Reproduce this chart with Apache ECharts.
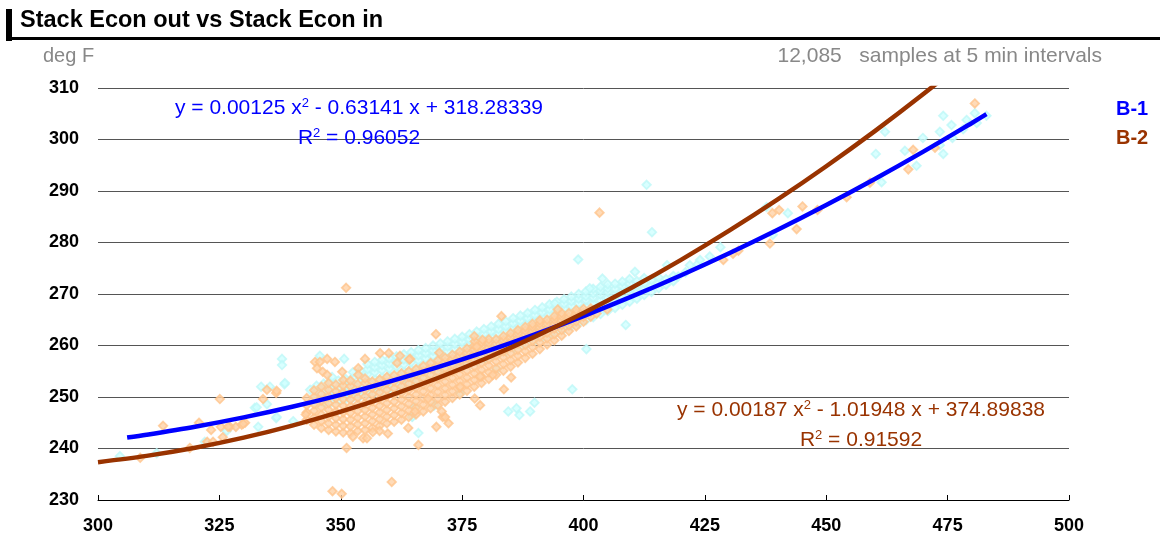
<!DOCTYPE html>
<html><head><meta charset="utf-8">
<script src="https://cdn.jsdelivr.net/npm/echarts@6/dist/echarts.min.js"></script>
<style>html,body{margin:0;padding:0;background:#fff}#c{width:1160px;height:540px}</style>
</head><body><div id="c"></div>
<script>
const FONT = 'Arial, "Liberation Sans", sans-serif';
const titleText = 'Stack Econ out vs Stack Econ in';
const unitText = 'deg F';
const sampleText = '12,085   samples at 5 min intervals';
const seriesNames = ['B-1', 'B-2'];
const xMin = 300, xMax = 500, xStep = 25;
const yMin = 230, yMax = 310, yStep = 10;

// B-1 dense band: [x, [y values]]
const b1Band = [
 [345,[248.5,249.8,251.1,252.2]],
 [346.5,[248.8,250.1,251.4,252.6]],
 [348,[249.0,250.3,251.6,252.9]],
 [349.5,[249.3,250.6,251.9,253.2]],
 [351,[249.6,250.9,252.2,253.5]],
 [352.5,[249.9,251.2,252.5,253.8,254.8]],
 [354,[250.2,251.5,252.8,254.1,255.1]],
 [355.5,[250.5,251.8,253.1,254.4,255.4,256.4]],
 [357,[250.9,252.2,253.5,254.8,255.8,256.8]],
 [358.5,[251.3,252.6,253.9,255.2,256.2,257.2]],
 [360,[251.6,252.9,254.2,255.5,256.5,257.5]],
 [361.5,[252.0,253.3,254.6,255.9,256.9,257.9]],
 [363,[252.4,253.7,255.0,256.3,257.3,258.3]],
 [364.5,[252.8,254.1,255.4,256.7,257.7,258.7]],
 [366,[253.2,254.5,255.8,257.1,258.1,259.1]],
 [367.5,[253.6,254.9,256.2,257.5,258.5,259.5]],
 [369,[254.1,255.4,256.7,258.0,259.0,260.0]],
 [370.5,[254.5,255.8,257.1,258.4,259.4,260.4]],
 [372,[254.9,256.2,257.5,258.8,259.8,260.8]],
 [373.5,[255.4,256.7,258.0,259.3,260.3,261.3]],
 [375,[255.8,257.1,258.4,259.7,260.7,261.7]],
 [376.5,[256.3,257.6,258.9,260.2,261.2,262.2]],
 [378,[256.8,258.1,259.4,260.7,261.7,262.7]],
 [379.5,[257.3,258.6,259.9,261.2,262.2,263.2]],
 [381,[257.8,259.1,260.4,261.7,262.7,263.7]],
 [382.5,[258.3,259.6,260.9,262.2,263.2,264.2]],
 [384,[258.8,260.1,261.4,262.7,263.7,264.7]],
 [385.5,[259.4,260.7,262.0,263.3,264.3,265.3]],
 [387,[259.9,261.2,262.5,263.8,264.8,265.8]],
 [388.5,[260.4,261.7,263.0,264.3,265.3,266.3]],
 [390,[261.0,262.3,263.6,264.9,265.9,266.9]],
 [391.5,[261.5,262.8,264.1,265.4,266.4,267.4]],
 [393,[262.1,263.4,264.7,266.0,267.0,268.0]],
 [394.5,[262.6,263.9,265.2,266.5,267.5,268.5]],
 [396,[263.2,264.5,265.8,267.1,268.1,269.0]],
 [397.5,[263.8,265.1,266.4,267.7,268.6,269.5]],
 [399,[264.3,265.6,266.9,268.2,269.1,270.0]],
 [400.5,[264.9,266.2,267.5,268.8,269.6,270.5]],
 [402,[265.5,266.8,268.1,269.3,270.1,271.0]],
 [403.5,[266.1,267.4,268.7,269.9,270.6,271.4]],
 [405,[266.7,268.0,269.3,270.4,271.1,271.9]],
 [406.5,[267.3,268.6,269.9,271.0,272.0]],
 [408,[267.9,269.2,270.5,271.5,272.4]],
 [409.5,[268.5,269.8,271.0,272.0,272.9]],
 [411,[269.1,270.4,271.6,272.5]],
 [412.5,[269.8,271.0,272.1,273.1]],
 [414,[270.4,271.6,272.7]],
 [415.5,[271.1,272.2,273.2]],
 [417,[271.8,272.9]],
 [418.5,[272.5,273.5]]
];
// B-1 scattered points [x, y]
const b1Sparse = [
 [304.5,238.5],[312.1,239.1],[322.0,241.3],[326.5,243.4],[333.0,244.2],[332.3,247.9],[332.7,248.0],[334.8,248.6],
 [336.7,245.9],[336.8,246.1],[340.2,245.3],[333.6,252.0],[335.4,252.0],[338.4,252.5],[338.5,252.7],[343.7,251.4],
 [337.9,257.4],[337.9,256.2],[345.7,258.0],[350.7,257.4],[348.2,253.9],[366.0,243.0],[364.7,246.1],[364.8,246.2],
 [365.3,248.1],[369.3,248.4],[369.1,248.3],[374.6,250.8],[384.5,247.2],[386.2,247.8],[386.8,246.5],[389.0,247.2],
 [389.9,248.9],[397.7,251.5],[400.6,259.3],[382.1,255.4],[378.7,257.7],[394.1,268.2],[401.3,271.1],[398.9,276.7],
 [403.9,273.0],[410.6,274.3],[417.2,275.6],[413.0,291.2],[414.1,282.0],[408.7,264.0],[419.5,273.4],[421.0,274.2],
 [421.9,275.6],[423.5,275.8],[424.0,276.6],[426.0,277.3],[428.2,279.1],[437.7,286.9],[439.0,281.5],[442.1,285.7],
 [460.2,297.2],[461.4,291.7],[462.1,301.5],[466.2,297.8],[468.6,294.9],[469.9,300.3],[473.4,301.5],[474.1,304.6],
 [474.1,297.2],[475.8,302.8],[476.0,300.3],[478.2,302.0],[478.9,303.8],[480.6,305.1],[481.0,303.2],[483.0,304.6],
 [473.4,298.9]
];
// B-2 dense band: [x, [y values]]
const b2Band = [
 [343,[245.6,247.0,248.4,249.8]],
 [344.5,[244.6,246.0,247.3,248.6,250.0,251.3]],
 [346,[244.0,245.3,246.6,248.0,249.3,250.6,252.0]],
 [347.5,[243.6,244.9,246.2,247.5,248.8,250.1,251.4,252.7]],
 [349,[243.3,244.6,245.9,247.2,248.5,249.8,251.1,252.4]],
 [350.5,[243.1,244.4,245.7,247.0,248.3,249.6,250.9,252.2,253.3]],
 [352,[243.0,244.3,245.6,246.9,248.2,249.5,250.8,252.1,253.2]],
 [353.5,[243.4,244.7,246.0,247.3,248.6,249.9,251.2,252.5]],
 [355,[243.6,244.9,246.2,247.5,248.8,250.1,251.4,252.7,253.6]],
 [356.5,[244.0,245.3,246.6,247.9,249.2,250.5,251.8,253.0]],
 [358,[244.4,245.7,247.0,248.3,249.6,250.9,252.2,253.4]],
 [359.5,[244.9,246.2,247.5,248.8,250.1,251.4,252.7,253.9]],
 [361,[245.2,246.5,247.8,249.1,250.4,251.7,253.0,254.2]],
 [362.5,[245.6,246.9,248.2,249.5,250.8,252.1,253.4,254.6]],
 [364,[246.1,247.4,248.7,250.0,251.3,252.6,253.9,255.0]],
 [365.5,[246.6,247.9,249.2,250.5,251.8,253.1,254.4,255.4]],
 [367,[247.2,248.5,249.8,251.1,252.4,253.7,255.0,256.0]],
 [368.5,[247.8,249.1,250.4,251.7,253.0,254.3,255.6,256.6]],
 [370,[248.4,249.7,251.0,252.3,253.6,254.9,256.1,257.1]],
 [371.5,[249.1,250.4,251.7,253.0,254.3,255.6,256.8,257.6]],
 [373,[249.8,251.1,252.4,253.7,255.0,256.3,257.4,258.2]],
 [374.5,[250.5,251.8,253.1,254.4,255.7,257.0,258.0,258.8]],
 [376,[251.2,252.5,253.8,255.1,256.4,257.6,258.6,259.4]],
 [377.5,[252.0,253.3,254.6,255.9,257.2,258.3,259.2,260.0]],
 [379,[252.7,254.0,255.3,256.6,257.9,259.0,259.9,260.6]],
 [380.5,[253.5,254.8,256.1,257.4,258.6,259.6,260.5,261.2]],
 [382,[254.3,255.6,256.9,258.1,259.3,260.3,261.2]],
 [383.5,[255.1,256.4,257.7,258.9,260.0,261.0,261.8]],
 [385,[255.9,257.2,258.5,259.7,260.7,261.6,262.4]],
 [386.5,[256.7,258.0,259.2,260.4,261.4,262.3,263.0]],
 [388,[257.6,258.9,260.1,261.2,262.1,262.9,263.6]],
 [389.5,[258.4,259.7,260.9,261.9,262.8,263.6,264.2]],
 [391,[259.3,260.6,261.7,262.7,263.5,264.3,264.9]],
 [392.5,[260.2,261.4,262.5,263.4,264.2,265.0]],
 [394,[261.0,262.2,263.3,264.2,265.0,265.7]],
 [395.5,[261.9,263.0,264.0,264.9,265.7,266.3]],
 [397,[262.8,263.9,264.8,265.6,266.3]],
 [398.5,[263.7,264.7,265.6,266.3,266.9]],
 [400,[264.6,265.6,266.4,267.1]],
 [401.5,[265.6,266.5,267.2]]
];
// B-2 scattered points [x, y]
const b2Sparse = [
 [351.1,271.2],[403.3,285.8],[480.6,307.0],[348.3,231.7],[350.2,231.2],[360.5,233.5],[351.2,240.1],[366.0,240.7],
 [325.1,249.6],[313.4,244.4],[334.8,251.4],[336.7,250.8],[318.9,240.1],[308.7,238.2],[323.3,243.6],[325.3,244.2],
 [327.2,244.2],[328.4,244.2],[329.6,244.6],[330.3,245.0],[322.5,241.3],[323.7,241.3],[325.7,242.2],[320.8,245.0],
 [342.8,246.6],[334.0,249.6],[336.8,251.2],[329.9,244.8],[326.8,244.2],
 [358.1,258.5],[359.9,258.5],[362.2,258.0],[364.3,257.4],[361.6,256.6],[355.0,257.4],[348.8,256.8],[347.2,257.4],
 [344.7,256.8],[345.7,256.8],[345.1,255.6],[346.3,254.9],[347.2,254.3],[350.3,254.9],[353.6,255.6],[353.6,254.3],
 [354.6,242.0],[352.5,242.3],[355.4,242.0],[358.0,243.4],[359.7,242.9],[363.9,244.0],[356.6,243.2],
 [383.1,265.7],[369.6,262.2],[394.7,267.0],[377.6,260.8],[379.2,261.1],[378.0,259.8],[370.3,258.6],[364.1,257.3],
 [377.5,261.8],[385.1,253.8],[383.6,251.5],[378.7,254.0],[381.3,254.3],[377.6,249.7],[378.7,248.4],[374.6,252.0],
 [372.2,244.9],[369.7,244.2],[371.0,246.1],[371.5,246.1],[370.8,247.2],[368.0,249.7],[365.3,247.2],
 [404.9,267.0],[402.7,266.2],[428.8,276.6],[430.8,277.8],[431.9,278.4],[438.4,279.8],[443.9,282.6],[438.9,285.7],
 [440.3,286.3],[445.1,287.0],[448.2,286.3],[454.2,288.8],[459.0,291.6],[466.9,294.2],[467.9,298.0],[472.4,298.4]
];
// Trend curves [x, y]
const b1Fit = [[306,242.12],[310,242.67],[320,244.23],[330,246.04],[340,248.10],[350,250.41],[360,252.98],[370,255.79],
 [380,258.85],[390,262.16],[400,265.72],[410,269.53],[420,273.59],[430,277.90],[440,282.46],[450,287.27],[460,292.33],
 [470,297.65],[480,303.21],[483,304.92]];
const b2Fit = [[300,237.35],[310,238.57],[320,240.15],[330,242.11],[340,244.45],[350,247.16],[360,250.24],[370,253.69],
 [380,257.52],[390,261.73],[400,266.31],[410,271.26],[420,276.58],[430,282.29],[440,288.36],[450,294.81],[460,301.63],
 [470,308.83],[480,316.40]];
const b1Eq = ['y = 0.00125 x', ' - 0.63141 x + 318.28339', 'R', ' = 0.96052'];
const b2Eq = ['y = 0.00187 x', ' - 1.01948 x + 374.89838', 'R', ' = 0.91592'];

const colB1 = '#0000ff', colB2 = '#993300';
const flat = band => band.reduce((acc, c) => acc.concat(c[1].map(y => [c[0], y])), []);

function eqText(x, y, lines, col) {
  const rich = { a: { fontSize: 21, fontFamily: FONT, fill: col }, s: { fontSize: 13, fontFamily: FONT, fill: col, padding: [0, 0, 10, 0] } };
  return [
    { type: 'text', x: x, y: y, z: 100, style: { text: '{a|' + lines[0] + '}{s|2}{a|' + lines[1] + '}', rich: rich, align: 'center', verticalAlign: 'middle' } },
    { type: 'text', x: x, y: y + 30, z: 100, style: { text: '{a|' + lines[2] + '}{s|2}{a|' + lines[3] + '}', rich: rich, align: 'center', verticalAlign: 'middle' } }
  ];
}

const chart = echarts.init(document.getElementById('c'), null, { renderer: 'canvas' });
const scatterStyle = (fill, border) => ({ color: fill, borderColor: border, borderWidth: 1.8 });
chart.setOption({
  animation: false,
  backgroundColor: '#fff',
  grid: { left: 98, right: 91, top: 88, bottom: 40 },
  xAxis: {
    type: 'value', min: xMin, max: xMax, interval: xStep,
    axisLine: { lineStyle: { color: '#000', width: 1 } },
    axisTick: { inside: true, length: 5, lineStyle: { color: '#000' } },
    axisLabel: { fontFamily: FONT, fontWeight: 'bold', fontSize: 18, color: '#000', margin: 17 },
    splitLine: { show: false }
  },
  yAxis: {
    type: 'value', min: yMin, max: yMax, interval: yStep,
    axisLine: { show: false }, axisTick: { show: false },
    axisLabel: { fontFamily: FONT, fontWeight: 'bold', fontSize: 18, color: '#000', margin: 19 },
    splitLine: { lineStyle: { color: '#555', width: 1 } }
  },
  series: [
    { name: seriesNames[0], type: 'scatter', symbol: 'diamond', symbolSize: 8.5,
      itemStyle: scatterStyle('#d0ffff', '#bef8f8'), data: flat(b1Band).concat(b1Sparse) },
    { name: seriesNames[1], type: 'scatter', symbol: 'diamond', symbolSize: 8.5,
      itemStyle: scatterStyle('#ffd2a6', '#ffc48c'), data: flat(b2Band).concat(b2Sparse) },
    { name: seriesNames[0] + ' fit', type: 'line', data: b1Fit, smooth: 0.3, showSymbol: false, clip: true,
      lineStyle: { color: colB1, width: 4.5 } },
    { name: seriesNames[1] + ' fit', type: 'line', data: b2Fit, smooth: 0.3, showSymbol: false, clip: true,
      lineStyle: { color: colB2, width: 4.5 } }
  ],
  graphic: [
    { type: 'rect', shape: { x: 6, y: 9, width: 6, height: 32 }, style: { fill: '#000' } },
    { type: 'rect', shape: { x: 6, y: 37, width: 1154, height: 3 }, style: { fill: '#000' } },
    { type: 'text', x: 20, y: 21, style: { text: titleText, font: 'bold 23.5px ' + FONT, fill: '#000', verticalAlign: 'middle' } },
    { type: 'text', x: 43, y: 56, style: { text: unitText, font: '20px ' + FONT, fill: '#888', verticalAlign: 'middle' } },
    { type: 'text', x: 1102, y: 56, style: { text: sampleText, font: '21px ' + FONT, fill: '#888', align: 'right', verticalAlign: 'middle' } },
    { type: 'text', x: 1116, y: 109, style: { text: seriesNames[0], font: 'bold 20px ' + FONT, fill: colB1, verticalAlign: 'middle' } },
    { type: 'text', x: 1116, y: 138, style: { text: seriesNames[1], font: 'bold 20px ' + FONT, fill: colB2, verticalAlign: 'middle' } }
  ].concat(eqText(359, 108, b1Eq, colB1)).concat(eqText(861, 410, b2Eq, colB2))
});
</script>
</body></html>
